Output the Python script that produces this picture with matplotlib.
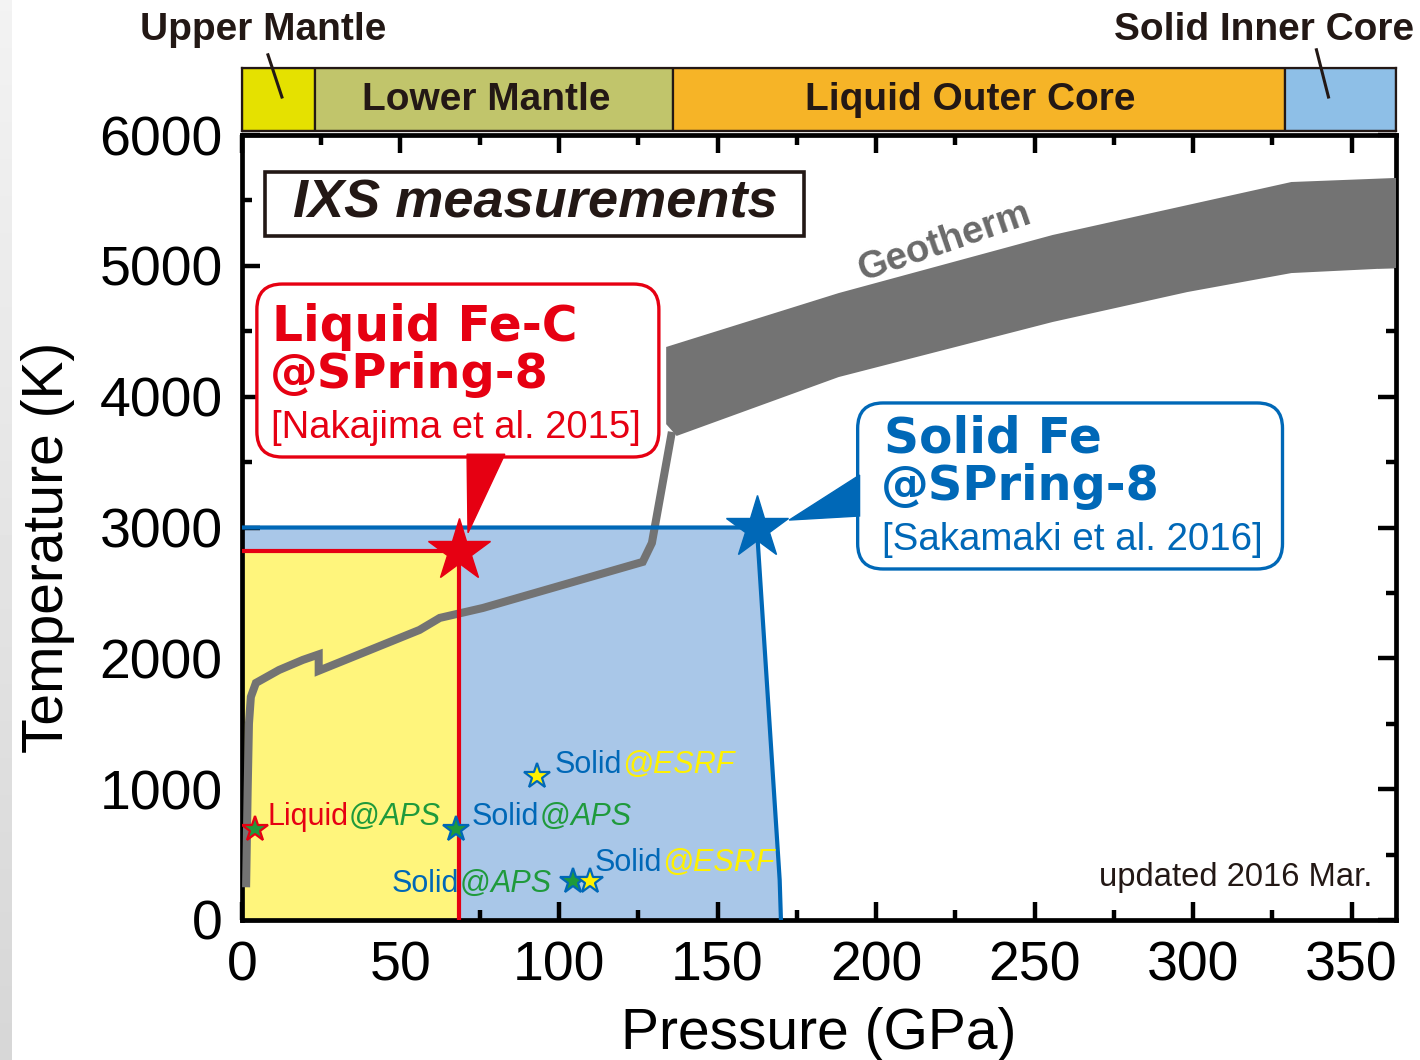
import matplotlib.pyplot as plt
import numpy as np
from matplotlib.patches import FancyBboxPatch, Polygon, Rectangle
from matplotlib.transforms import offset_copy

plt.rcParams["font.family"] = ["Liberation Sans", "DejaVu Sans"]

# Earth's interior zones along the pressure axis (GPa)
zone_names = ["Upper Mantle", "Lower Mantle", "Liquid Outer Core", "Solid Inner Core"]
zone_edges = [0, 23, 136, 329, 364]
zone_colors = ["#e5e100", "#c1c56b", "#f6b427", "#8ebfe7"]

# geotherm, thin mantle part
geo_p = [1.3, 1.8, 2.2, 2.8, 4.4, 11.7, 19.2, 24.2, 24.2, 56.0, 62.4, 76.0,
         126.4, 129.3, 135.6]
geo_t = [250, 1000, 1500, 1705, 1812, 1911, 1988, 2030, 1905, 2217, 2309, 2385,
         2737, 2882, 3731]
# geotherm, wide core band
band_top_p = [133.8, 188.2, 255.7, 331.0, 364.0]
band_top_t = [4380, 4792, 5236, 5641, 5672]
band_bot_p = [133.8, 137.1, 188.2, 255.7, 298.2, 331.0, 364.0]
band_bot_t = [3790, 3700, 4150, 4571, 4800, 4945, 4984]

# P-T range covered by the SPring-8 measurements
liquid_p = 68.3
liquid_t = 2820
solid_p = [162.4, 169.6, 170.0]
solid_t = [3000, 306, 0]

# earlier IXS points
aps_p = [4.1, 67.5, 104.3]
aps_t = [696, 696, 298]
aps_edge = ["#e60012", "#0068b7", "#0068b7"]
esrf_p = [93.0, 109.7]
esrf_t = [1101, 298]

red = "#e60012"
blue = "#0068b7"
green = "#1f9a3c"
yellow = "#fff100"
dark = "#231815"
grey = "#737373"
heavy = ["DejaVu Sans", "Liberation Sans"]


def tone_text(ax, x, y, parts, size):
    fig = ax.figure
    renderer = fig.canvas.get_renderer()
    trans = ax.transData
    for s, color, style in parts:
        t = ax.text(x, y, s, transform=trans, color=color, style=style,
                    fontsize=size, ha="left", va="baseline", zorder=9)
        w = t.get_window_extent(renderer=renderer).width
        trans = offset_copy(trans, fig=fig, x=w, units="dots")


fig = plt.figure(figsize=(14.2, 10.6), dpi=100)

# soft shading along the left edge
ax_edge = fig.add_axes([0, 0, 12 / 1420, 1])
ax_edge.imshow(np.linspace(0.95, 0.84, 200).reshape(-1, 1), cmap="gray",
               vmin=0, vmax=1, aspect="auto")
ax_edge.axis("off")

ax = fig.add_axes([0.1704, 0.1321, 0.8127, 0.7405])
ax.set_xlim(0, 364)
ax.set_ylim(0, 6000)

# solid region and liquid region
ax.fill([0, 0] + solid_p, [0, 3000] + solid_t, color="#a9c7e8", lw=0, zorder=1)
ax.plot([0] + solid_p, [3000] + solid_t, color=blue, lw=3, zorder=4)
ax.fill([0, 0, liquid_p, liquid_p], [0, liquid_t, liquid_t, 0],
        color="#fff57c", lw=0, zorder=2)
ax.plot([0, liquid_p, liquid_p], [liquid_t, liquid_t, 0], color=red, lw=3,
        zorder=4)

# geotherm
ax.plot(geo_p, geo_t, color=grey, lw=5.8, solid_joinstyle="miter",
        solid_capstyle="butt", zorder=3)
ax.fill(band_top_p + band_bot_p[::-1], band_top_t + band_bot_t[::-1],
        color=grey, lw=0, zorder=3)
ax.text(221.6, 5182, "Geotherm", color="#6a6a6a", fontsize=27.5,
        fontweight="bold", rotation=19, ha="center", va="center", zorder=5)

# measurement points
ax.plot(liquid_p, liquid_t, marker="*", ms=47, color=red, ls="none", zorder=7)
ax.plot(solid_p[0], solid_t[0], marker="*", ms=47, color=blue, ls="none",
        zorder=7)
for p, t, ec in zip(aps_p, aps_t, aps_edge):
    ax.plot(p, t, marker="*", ms=19, mfc=green, mec=ec, mew=1.6, ls="none",
            zorder=7)
for p, t in zip(esrf_p, esrf_t):
    ax.plot(p, t, marker="*", ms=19, mfc=yellow, mec=blue, mew=1.6, ls="none",
            zorder=7)

tone_text(ax, 8.2, 726, [("Liquid", red, "normal"), ("@", green, "normal"),
                         ("APS", green, "italic")], 22)
tone_text(ax, 72.5, 726, [("Solid", blue, "normal"), ("@", green, "normal"),
                          ("APS", green, "italic")], 22)
tone_text(ax, 47.3, 214, [("Solid", blue, "normal"), ("@", green, "normal"),
                          ("APS", green, "italic")], 22)
tone_text(ax, 98.7, 1124, [("Solid", blue, "normal"),
                           ("@ESRF", yellow, "italic")], 22)
tone_text(ax, 111.3, 375, [("Solid", blue, "normal"),
                           ("@ESRF", yellow, "italic")], 22)

ax.text(356.6, 260, "updated 2016 Mar.", color=dark, fontsize=23.6,
        ha="right", va="baseline", zorder=9)

# callouts
px_x = ax.bbox.width / 364
px_y = ax.bbox.height / 6000
aspect = px_x / px_y

ax.add_patch(Rectangle((7.25, 5228), 169.95, 489, fc="white", ec=dark,
                       lw=2.6, zorder=6))
ax.text(92.4, 5473, "IXS measurements", color=dark, fontsize=39,
        fontweight="bold", style="italic", ha="center", va="center", zorder=9)

ax.add_patch(FancyBboxPatch((4.7, 3539), 126.8, 1322,
                            boxstyle="round,pad=0,rounding_size=8",
                            mutation_aspect=aspect, fc="white", ec=red,
                            lw=2.4, zorder=6))
ax.add_patch(Polygon([(71.0, 3560), (82.9, 3560),
                      (liquid_p + 3.0, liquid_t + 140)],
                     closed=True, fc=red, ec=red, lw=1, zorder=6))
ax.text(9.5, 4426, "Liquid Fe-C", color=red, fontsize=35,
        fontweight="bold", family=heavy, va="baseline", zorder=9)
ax.text(8.8, 4066, "@SPring-8", color=red, fontsize=34.5,
        fontweight="bold", family=heavy, va="baseline", zorder=9)
ax.text(9.0, 3684, "[Nakajima et al. 2015]", color=red, fontsize=27.5,
        va="baseline", zorder=9)

ax.add_patch(FancyBboxPatch((194.2, 2683), 134.0, 1269,
                            boxstyle="round,pad=0,rounding_size=8",
                            mutation_aspect=aspect, fc="white", ec=blue,
                            lw=2.4, zorder=6))
ax.add_patch(Polygon([(194.8, 3401), (194.8, 3088),
                      (solid_p[0] + 10.2, solid_t[0] + 57)],
                     closed=True, fc=blue, ec=blue, lw=1, zorder=6))
ax.text(202.4, 3570, "Solid Fe", color=blue, fontsize=35,
        fontweight="bold", family=heavy, va="baseline", zorder=9)
ax.text(201.6, 3210, "@SPring-8", color=blue, fontsize=34.5,
        fontweight="bold", family=heavy, va="baseline", zorder=9)
ax.text(201.8, 2828, "[Sakamaki et al. 2016]", color=blue, fontsize=27.7,
        va="baseline", zorder=9)

# axes styling
ax.set_xticks(range(0, 351, 50))
ax.set_xticks(range(0, 364, 25), minor=True)
ax.set_yticks(range(0, 6001, 1000))
ax.set_yticks(range(0, 6001, 500), minor=True)
ax.tick_params(which="both", direction="in", top=True, right=True, width=3.2,
               color="black")
ax.tick_params(which="major", length=13, labelsize=40, colors="black")
ax.tick_params(which="minor", length=7)
ax.tick_params(axis="y", pad=14)
ax.tick_params(axis="x", pad=15)
for s in ax.spines.values():
    s.set_linewidth(3.4)
ax.set_xlabel("Pressure (GPa)", fontsize=41, labelpad=10)
ax.set_ylabel("Temperature (K)", fontsize=41)
ax.yaxis.set_label_coords(-0.145, 0.475)

# zone bar above the plot
ax_top = fig.add_axes([0.1704, 0.8764, 0.8127, 0.0594])
ax_top.set_xlim(0, 364)
ax_top.set_ylim(0, 1)
lefts = zone_edges[:-1]
widths = np.diff(zone_edges)
ax_top.bar(lefts, 1, width=widths, bottom=0, align="edge", color=zone_colors,
           edgecolor=dark, linewidth=1.6)
for s in ax_top.spines.values():
    s.set_linewidth(1.6)
    s.set_color(dark)
ax_top.set_xticks([])
ax_top.set_yticks([])
ax_top.text(77.2, 0.5, zone_names[1], color=dark, fontsize=28,
            fontweight="bold", ha="center", va="center")
ax_top.text(229.8, 0.5, zone_names[2], color=dark, fontsize=28,
            fontweight="bold", ha="center", va="center")
ax_top.text(6.6, 1.44, zone_names[0], color=dark, fontsize=28,
            fontweight="bold", ha="center", va="baseline", clip_on=False)
ax_top.text(322.4, 1.44, zone_names[3], color=dark, fontsize=28,
            fontweight="bold", ha="center", va="baseline", clip_on=False)
ax_top.plot([8.2, 12.6], [1.21, 0.54], color=dark, lw=2.2, clip_on=False)
ax_top.plot([338.9, 342.7], [1.29, 0.54], color=dark, lw=2.2, clip_on=False)

fig.savefig("out.png", dpi=100)
